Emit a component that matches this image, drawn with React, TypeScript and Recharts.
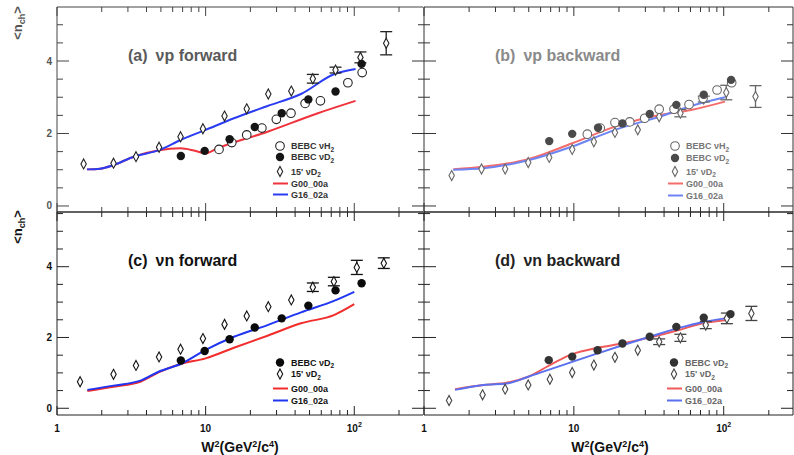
import React from "react";
import { ComposedChart, Line, Scatter, XAxis, YAxis, ErrorBar, Customized } from "recharts";

// each point: [W^2 (GeV^2/c^4), <n_ch>, error]
// (a) nu p forward
const aBebcH2 = [[12.3, 1.56], [15.0, 1.75], [18.9, 1.96], [23.9, 2.15], [29.9, 2.39], [37.5, 2.56], [46.7, 2.83], [59.2, 2.9], [90.6, 3.4], [113, 3.68]];
const aBebcD2 = [[6.81, 1.38], [9.85, 1.52], [14.5, 1.84], [21.4, 2.18], [32.5, 2.56], [49.1, 2.94], [74.8, 3.16], [112, 3.92]];
const a15ft = [[1.51, 1.16], [2.4, 1.18], [3.4, 1.36], [4.86, 1.62], [6.78, 1.91], [9.59, 2.13], [13.4, 2.48], [18.9, 2.68], [26.4, 3.09], [37.7, 3.17], [52.6, 3.51, 0.12], [74.8, 3.75, 0.08], [110, 4.1, 0.15], [164, 4.49, 0.32]];
const aG00 = [[1.59, 1.01], [1.95, 1.03], [2.4, 1.13], [3.28, 1.36], [4.86, 1.54], [6.78, 1.59], [8.34, 1.53], [10, 1.45], [12, 1.59], [26.1, 2.05], [56.9, 2.56], [102, 2.9]];
const aG16 = [[1.59, 1.01], [1.95, 1.03], [2.4, 1.13], [3.28, 1.36], [4.86, 1.54], [6.78, 1.82], [10, 2.1], [15.5, 2.42], [26.1, 2.76], [43.8, 3.09], [73.6, 3.64], [102, 3.78]];

// (b) nu p backward
const bBebcH2 = [[12.3, 1.98], [15.0, 2.15], [18.8, 2.3], [23.6, 2.32], [29.7, 2.42], [37.1, 2.67], [46.6, 2.67], [58.7, 2.8], [72.8, 2.97], [90.3, 3.2], [113, 3.4]];
const bBebcD2 = [[6.85, 1.79], [9.75, 1.99], [14.5, 2.16], [21.1, 2.28], [32.1, 2.54], [48.3, 2.79], [73.6, 3.07], [112, 3.48]];
const b15ft = [[1.53, 0.84], [2.42, 1.02], [3.48, 1.02], [4.96, 1.2], [6.85, 1.34], [9.75, 1.56], [13.6, 1.77], [18.8, 2.03], [26.7, 2.1], [37.1, 2.46], [51.4, 2.56, 0.1], [73.6, 2.95, 0.08], [104, 3.13, 0.2], [163, 3.02, 0.3]];
const bG00 = [[1.57, 1.01], [2.49, 1.08], [4.96, 1.29], [9.75, 1.73], [18.8, 2.19], [37.1, 2.51], [60.5, 2.65], [102, 2.88]];
const bG16 = [[1.57, 1.0], [2.49, 1.04], [4.96, 1.26], [9.75, 1.64], [18.8, 2.1], [37.1, 2.46], [60.5, 2.76], [102, 3.0]];

// (c) nu n forward
const cBebcD2 = [[6.81, 1.35], [9.85, 1.62], [14.5, 1.95], [21.4, 2.28], [32.5, 2.54], [49.1, 2.9], [74.8, 3.33], [112, 3.53]];
const c15ft = [[1.43, 0.75], [2.4, 0.96], [3.4, 1.21], [4.86, 1.45], [6.78, 1.67], [9.59, 1.97], [13.4, 2.37], [18.9, 2.61], [26.4, 2.87], [37.7, 3.06], [52.6, 3.42, 0.12], [72.9, 3.58, 0.12], [104, 3.98, 0.2], [158, 4.1, 0.15]];
const cG00 = [[1.6, 0.49], [2.4, 0.61], [3.64, 0.75], [4.86, 1.02], [6.78, 1.25], [10, 1.41], [15.5, 1.71], [26.1, 2.05], [43.8, 2.4], [73.6, 2.64], [100, 2.94]];
const cG16 = [[1.6, 0.52], [2.4, 0.64], [3.64, 0.78], [4.86, 1.04], [6.78, 1.25], [10, 1.65], [15.5, 2.02], [26.1, 2.35], [43.8, 2.71], [73.6, 3.04], [100, 3.29]];

// (d) nu n backward
const dBebcD2 = [[6.8, 1.36], [9.75, 1.46], [14.4, 1.64], [21.1, 1.83], [32.1, 2.02], [48.3, 2.3], [73.6, 2.56], [111, 2.66]];
const d15ft = [[1.47, 0.22], [2.46, 0.38], [3.48, 0.54], [4.96, 0.66], [6.92, 0.82], [9.75, 1.01], [13.6, 1.22], [18.8, 1.44], [26.7, 1.64], [37.1, 1.88, 0.08], [51.4, 1.99, 0.1], [75.9, 2.35, 0.1], [105, 2.54, 0.15], [153, 2.68, 0.2]];
const dG00 = [[1.61, 0.54], [2.49, 0.66], [3.56, 0.72], [4.96, 0.89], [6.92, 1.22], [9.75, 1.53], [14.4, 1.71], [21.1, 1.83], [32.1, 2.0], [48.3, 2.19], [73.6, 2.41], [102, 2.49]];
const dG16 = [[1.61, 0.52], [2.49, 0.66], [3.56, 0.7], [4.96, 0.89], [6.92, 1.1], [9.75, 1.31], [14.4, 1.55], [21.1, 1.78], [32.1, 2.02], [48.3, 2.25], [73.6, 2.44], [102, 2.54]];

const wTicks = [1, 2, 3, 4, 5, 6, 7, 8, 9, 10, 20, 30, 40, 50, 60, 70, 80, 90, 100, 200];
const nTicks = [0, 0.5, 1, 1.5, 2, 2.5, 3, 3.5, 4, 4.5, 5, 5.5];
const nLabels = [0, 2, 4];

const FONT = "'Liberation Sans', Arial, Helvetica, sans-serif";

const pts = (arr: number[][]) => arr.map(([w, n, e]) => ({ w, n, e }));

const openCircle = (c: string) => (p: any) => (
  <circle cx={p.cx} cy={p.cy} r={4.3} fill="#fff" stroke={c} strokeWidth={1.1} />
);
const dot = (c: string) => (p: any) => <circle cx={p.cx} cy={p.cy} r={4.2} fill={c} />;
const diamond = (c: string) => (p: any) => (
  <path
    d={`M${p.cx},${p.cy - 5}L${p.cx + 2.7},${p.cy}L${p.cx},${p.cy + 5}L${p.cx - 2.7},${p.cy}Z`}
    fill="#fff"
    stroke={c}
    strokeWidth={1.1}
  />
);

type Panel = {
  x0: number; x1: number; y0: number; y1: number;
  wMax: number; nDom: [number, number];
  right: boolean; bottom: boolean;
  title: string; tag: string; titleColor: string;
  axis: string; mark: string; fill: string; text: string;
  red: string; blue: string;
  h2?: number[][]; d2: number[][]; ft: number[][]; g00: number[][]; g16: number[][];
  legX: number; legRows: number[];
};

const panels: Panel[] = [
  {
    x0: 57, x1: 423, y0: 7, y1: 212, wMax: 290, nDom: [-0.166, 5.49], right: false, bottom: false,
    tag: "(a)", title: "\u03bdp forward", titleColor: "#5a5a5a", axis: "#444", mark: "#222", fill: "#151515", text: "#333",
    red: "#f0323c", blue: "#2b3df2", h2: aBebcH2, d2: aBebcD2, ft: a15ft, g00: aG00, g16: aG16,
    legX: 280, legRows: [146, 157, 171.5, 183.5, 194.5],
  },
  {
    x0: 424, x1: 793, y0: 7, y1: 212, wMax: 290, nDom: [-0.166, 5.49], right: true, bottom: false,
    tag: "(b)", title: "\u03bdp backward", titleColor: "#8a8a8a", axis: "#333", mark: "#666", fill: "#4a4a4a", text: "#777",
    red: "#f46b6b", blue: "#6d84f2", h2: bBebcH2, d2: bBebcD2, ft: b15ft, g00: bG00, g16: bG16,
    legX: 675, legRows: [146, 158, 171.5, 183.5, 195.5],
  },
  {
    x0: 57, x1: 423, y0: 212, y1: 415, wMax: 290, nDom: [-0.19, 5.545], right: false, bottom: true,
    tag: "(c)", title: "\u03bdn forward", titleColor: "#111", axis: "#222", mark: "#111", fill: "#0a0a0a", text: "#111",
    red: "#f22b2b", blue: "#1f35f2", d2: cBebcD2, ft: c15ft, g00: cG00, g16: cG16,
    legX: 280, legRows: [362.5, 374, 388.5, 400.5],
  },
  {
    x0: 424, x1: 793, y0: 212, y1: 415, wMax: 290, nDom: [-0.19, 5.545], right: true, bottom: true,
    tag: "(d)", title: "\u03bdn backward", titleColor: "#222", axis: "#222", mark: "#444", fill: "#333", text: "#666",
    red: "#f05a5a", blue: "#5a70ee", d2: dBebcD2, ft: d15ft, g00: dG00, g16: dG16,
    legX: 674, legRows: [362.5, 374, 388.5, 400.5],
  },
];

const isMajorW = (v: number) => v === 1 || v === 10 || v === 100;

const wLabel = (v: number) =>
  v === 100 ? (
    <>
      10<tspan dy={-5} fontSize={7}>2</tspan>
    </>
  ) : (
    String(v)
  );

function Decor({ p }: { p: Panel }) {
  const sub = (s: string) => <tspan dy={2.5} fontSize={6.5}>{s}</tspan>;
  const rows = p.legRows;
  const items: { key: string; draw: (y: number) => React.ReactNode; label: React.ReactNode }[] = [];
  if (p.h2)
    items.push({
      key: "h2",
      draw: (y) => openCircle(p.mark)({ cx: p.legX, cy: y }),
      label: <>BEBC {"\u03bd"}H{sub("2")}</>,
    });
  items.push({ key: "d2", draw: (y) => dot(p.fill)({ cx: p.legX, cy: y }), label: <>BEBC {"\u03bd"}D{sub("2")}</> });
  items.push({ key: "ft", draw: (y) => diamond(p.mark)({ cx: p.legX, cy: y }), label: <>15' {"\u03bd"}D{sub("2")}</> });
  items.push({
    key: "g00",
    draw: (y) => <line x1={p.legX - 7} x2={p.legX + 8} y1={y} y2={y} stroke={p.red} strokeWidth={2} />,
    label: "G00_00a",
  });
  items.push({
    key: "g16",
    draw: (y) => <line x1={p.legX - 7} x2={p.legX + 8} y1={y} y2={y} stroke={p.blue} strokeWidth={2} />,
    label: "G16_02a",
  });
  const titleX = p.right ? 495 : 128;
  const titleY = p.y0 + 54;
  return (
    <g fontFamily={FONT} fontWeight="bold">
      <text x={titleX} y={titleY} fontSize={16} fill={p.titleColor}>
        {p.tag}
        <tspan dx={8}>{p.title}</tspan>
      </text>
      {items.map((it, i) => (
        <g key={it.key}>
          {it.draw(rows[i])}
          <text x={p.legX + 11} y={rows[i] + 3.3} fontSize={9} fill={p.text}>
            {it.label}
          </text>
        </g>
      ))}
      {!p.right && (
        <text
          transform={`translate(22,${p.bottom ? 227 : 23}) rotate(-90)`}
          textAnchor="middle"
          fontSize={13}
          fill={p.bottom ? "#111" : "#555"}
        >
          {"<n"}
          <tspan dy={3} fontSize={9}>ch</tspan>
          <tspan dy={-3}>{">"}</tspan>
        </text>
      )}
      {p.bottom && (
        <text x={p.right ? 610 : 240} y={452} textAnchor="middle" fontSize={14} fill="#111">
          W<tspan dy={-5} fontSize={9}>2</tspan>
          <tspan dy={5}>(GeV</tspan>
          <tspan dy={-5} fontSize={9}>2</tspan>
          <tspan dy={5}>/c</tspan>
          <tspan dy={-5} fontSize={9}>4</tspan>
          <tspan dy={5}>)</tspan>
        </text>
      )}
    </g>
  );
}

function PanelChart({ p }: { p: Panel }) {
  const yTicks = nTicks.filter((v) => v >= p.nDom[0] && v <= p.nDom[1]);
  const bottomTick = (t: any) => {
    const v = t.payload.value;
    const major = isMajorW(v);
    return (
      <g>
        <line x1={t.x} x2={t.x} y1={p.y1} y2={p.y1 - (major ? 9 : 5)} stroke={p.axis} />
        {p.bottom && major && (
          <text x={t.x} y={p.y1 + 17} textAnchor="middle" fontSize={10} fontWeight="bold" fontFamily={FONT} fill="#111">
            {wLabel(v)}
          </text>
        )}
      </g>
    );
  };
  const topTick = (t: any) => {
    const major = isMajorW(t.payload.value);
    return <line x1={t.x} x2={t.x} y1={p.y0} y2={p.y0 + (major ? 9 : 5)} stroke={p.axis} />;
  };
  const leftTick = (t: any) => {
    const v = t.payload.value;
    const major = v % 2 === 0;
    const len = major ? 12 : 6;
    return (
      <g>
        <line x1={p.right ? p.x0 - len : p.x0} x2={p.x0 + len} y1={t.y} y2={t.y} stroke={p.axis} />
        {!p.right && nLabels.includes(v) && (
          <text x={p.x0 - 5} y={t.y + 3.5} textAnchor="end" fontSize={10} fontWeight="bold" fontFamily={FONT} fill={p.bottom ? "#111" : "#555"}>
            {v}
          </text>
        )}
      </g>
    );
  };
  const rightTick = (t: any) => {
    const major = t.payload.value % 2 === 0;
    return <line x1={p.x1} x2={p.x1 - (major ? 12 : 6)} y1={t.y} y2={t.y} stroke={p.axis} />;
  };
  // axes are 1px thick so that Recharts draws them; margins compensate
  return (
    <ComposedChart
      width={794}
      height={455}
      margin={{ top: p.y0 - 1, left: p.x0 - 1, right: 794 - p.x1 - 1, bottom: 455 - p.y1 - 1 }}
      style={{ position: "absolute", left: 0, top: 0 }}
    >
      <XAxis
        xAxisId="b" dataKey="w" type="number" scale="log" domain={[1, p.wMax]} allowDataOverflow
        ticks={wTicks} interval={0} height={1} tickLine={false} tick={bottomTick}
        axisLine={{ stroke: p.axis }}
      />
      <XAxis
        xAxisId="t" orientation="top" dataKey="w" type="number" scale="log" domain={[1, p.wMax]} allowDataOverflow
        ticks={wTicks} interval={0} height={1} tickLine={false} tick={topTick}
        axisLine={{ stroke: p.axis }}
      />
      <YAxis
        yAxisId="l" dataKey="n" type="number" domain={p.nDom} allowDataOverflow
        ticks={yTicks} interval={0} width={1} tickLine={false} tick={leftTick}
        axisLine={{ stroke: p.axis }}
      />
      <YAxis
        yAxisId="r" orientation="right" dataKey="n" type="number" domain={p.nDom} allowDataOverflow
        ticks={yTicks} interval={0} width={1} tickLine={false} tick={p.right ? rightTick : false}
        axisLine={p.right ? { stroke: p.axis } : false}
      />
      <Line xAxisId="b" yAxisId="l" data={pts(p.g00)} dataKey="n" type="monotone" stroke={p.red} strokeWidth={2} dot={false} isAnimationActive={false} />
      <Line xAxisId="b" yAxisId="l" data={pts(p.g16)} dataKey="n" type="monotone" stroke={p.blue} strokeWidth={2} dot={false} isAnimationActive={false} />
      <Scatter xAxisId="b" yAxisId="l" data={pts(p.ft)} dataKey="n" shape={diamond(p.mark)} isAnimationActive={false}>
        <ErrorBar dataKey="e" direction="y" width={6} stroke={p.mark} strokeWidth={1.3} />
      </Scatter>
      {p.h2 && (
        <Scatter xAxisId="b" yAxisId="l" data={pts(p.h2)} dataKey="n" shape={openCircle(p.mark)} isAnimationActive={false} />
      )}
      <Scatter xAxisId="b" yAxisId="l" data={pts(p.d2)} dataKey="n" shape={dot(p.fill)} isAnimationActive={false} />
      <Customized component={() => <Decor p={p} />} />
    </ComposedChart>
  );
}

export default function App() {
  return (
    <div style={{ position: "absolute", left: 0, top: 0, width: 794, height: 455, background: "#fff" }}>
      {panels.map((p) => (
        <PanelChart key={p.tag} p={p} />
      ))}
    </div>
  );
}
